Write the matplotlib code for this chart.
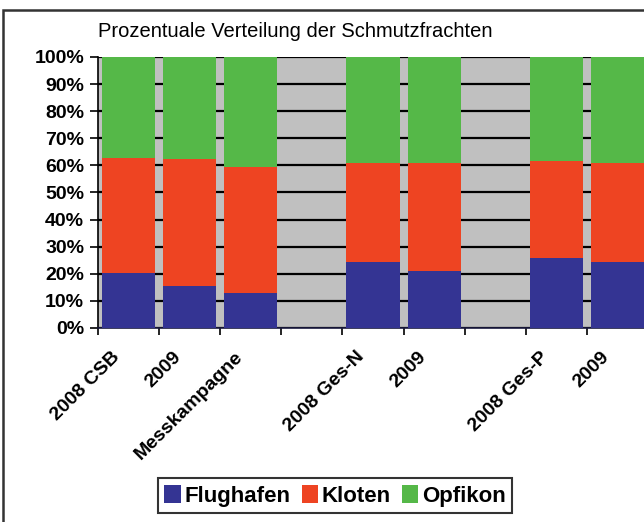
import matplotlib
matplotlib.use("Agg")
import matplotlib.pyplot as plt
from matplotlib.patches import Rectangle
import matplotlib.transforms as mtransforms
import numpy as np

plt.rcParams['font.family'] = ['Liberation Sans', 'DejaVu Sans']

nan = np.nan
categories = ["2008 CSB", "2009", "Messkampagne", "", "2008 Ges-N", "2009", "", "2008 Ges-P", "2009"]
flughafen = [20.2, 15.5, 12.8, nan, 24.5, 21.2, nan, 25.7, 24.5]
kloten    = [42.6, 46.7, 46.7, nan, 36.3, 39.6, nan, 35.9, 36.3]
opfikon   = [37.2, 37.8, 40.5, nan, 39.2, 39.2, nan, 38.4, 39.2]
series_names = ["Flughafen", "Kloten", "Opfikon"]
colors = ["#343493", "#EE4422", "#55B848"]

W, H = 644, 522
fig = plt.figure(figsize=(W/100, H/100), dpi=100)
ax = fig.add_axes([98/W, 1-328/H, (648-98)/W, (328-57)/H])
ax.set_facecolor("#C0C0C0")

x = np.arange(len(categories))
bw = 0.87
f = np.array(flughafen); k = np.array(kloten); o = np.array(opfikon)
b1 = ax.bar(x, f, bw, color=colors[0], zorder=3, linewidth=0, label=series_names[0])
b2 = ax.bar(x, k, bw, bottom=f, color=colors[1], zorder=3, linewidth=0, label=series_names[1])
b3 = ax.bar(x, o, bw, bottom=f + k, color=colors[2], zorder=3, linewidth=0, label=series_names[2])

ax.set_xlim(-0.5, len(categories) - 0.5)
ax.set_ylim(0, 100)
ax.set_yticks(np.arange(0, 101, 10))
ax.set_yticklabels([f"{v}%" for v in range(0, 101, 10)], fontsize=14, fontweight='bold')
ax.yaxis.grid(True, color="black", linewidth=1.6, zorder=1)
ax.set_axisbelow(True)

ax.set_xticks(x)
ax.set_xticklabels(categories, rotation=45, ha='right', va='center', rotation_mode='anchor',
                   fontsize=14, fontweight='bold')
ax.tick_params(axis='x', which='major', length=0, pad=19)
offset = mtransforms.ScaledTranslation(-11/100, 0, fig.dpi_scale_trans)
for lbl in ax.get_xticklabels():
    lbl.set_transform(lbl.get_transform() + offset)
ax.set_xticks(np.arange(-0.5, len(categories), 1), minor=True)
ax.tick_params(axis='x', which='minor', length=5, width=1.2, color='black')
ax.tick_params(axis='y', length=6, width=1.2, color='black', pad=4)

for s in ['top', 'right']:
    ax.spines[s].set_visible(False)
ax.spines['left'].set_linewidth(1.2)
ax.spines['bottom'].set_linewidth(1.2)
ax.spines['bottom'].set_color('#1a1a40')

fig.text(295/W, 1-31/H, "Prozentuale Verteilung der Schmutzfrachten",
         ha='center', va='center', fontsize=14.5)

leg = fig.legend(handles=[b1, b2, b3], labels=series_names, loc='upper center',
                 bbox_to_anchor=(335/W, 1-478/H), ncol=3, frameon=True,
                 fancybox=False, edgecolor='black',
                 prop={'size': 16, 'weight': 'bold'},
                 handlelength=0.75, handleheight=0.9, handletextpad=0.15,
                 columnspacing=0.5, borderpad=0.3, borderaxespad=0)
leg.get_frame().set_linewidth(1.5)

fig.patches.append(Rectangle((3/W, -0.1), 1.2, 1-10/H+0.1, transform=fig.transFigure,
                             fill=False, edgecolor='#333333', linewidth=1.8))

fig.savefig("out.png", dpi=100)
